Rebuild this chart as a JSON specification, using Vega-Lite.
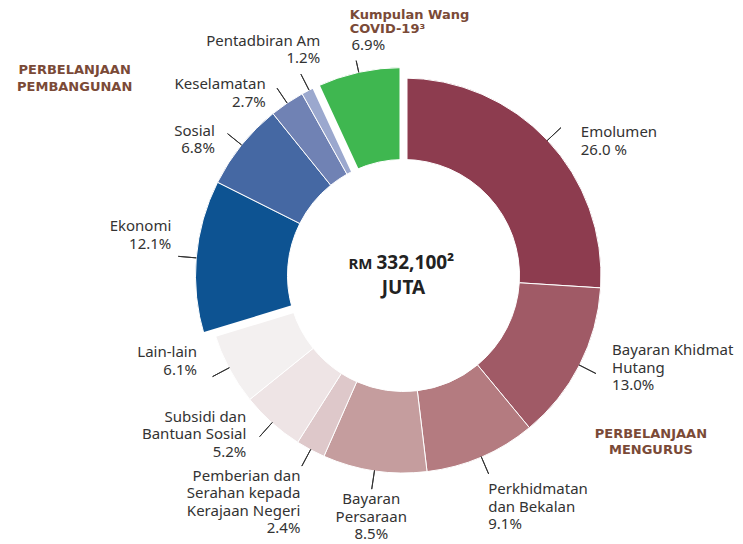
{
  "$schema": "https://vega.github.io/schema/vega-lite/v6.json",
  "width": 679,
  "height": 537,
  "autosize": {"type": "none"},
  "padding": {"left": 64, "top": 7, "right": 0, "bottom": 0},
  "background": "white",
  "config": {"view": {"stroke": null}, "text": {"font": "Noto Sans"}},
  "datasets": {
    "items": [
      {"cat": "Emolumen", "g": "M", "gt": "PERBELANJAAN\nMENGURUS", "pct": 26.0, "label": "Emolumen\n26.0 %"},
      {"cat": "Bayaran Khidmat Hutang", "g": "M", "gt": "PERBELANJAAN\nMENGURUS", "pct": 13.0, "label": "Bayaran Khidmat\nHutang\n13.0%"},
      {"cat": "Perkhidmatan dan Bekalan", "g": "M", "gt": "PERBELANJAAN\nMENGURUS", "pct": 9.1, "label": "Perkhidmatan\ndan Bekalan\n9.1%"},
      {"cat": "Bayaran Persaraan", "g": "M", "gt": "PERBELANJAAN\nMENGURUS", "pct": 8.5, "label": "Bayaran\nPersaraan\n8.5%"},
      {"cat": "Pemberian dan Serahan kepada Kerajaan Negeri", "g": "M", "gt": "PERBELANJAAN\nMENGURUS", "pct": 2.4, "label": "Pemberian dan\nSerahan kepada\nKerajaan Negeri\n2.4%"},
      {"cat": "Subsidi dan Bantuan Sosial", "g": "M", "gt": "PERBELANJAAN\nMENGURUS", "pct": 5.2, "label": "Subsidi dan\nBantuan Sosial\n5.2%"},
      {"cat": "Lain-lain", "g": "M", "gt": "PERBELANJAAN\nMENGURUS", "pct": 6.1, "label": "Lain-lain\n6.1%"},
      {"cat": "Ekonomi", "g": "P", "gt": "PERBELANJAAN\nPEMBANGUNAN", "pct": 12.1, "label": "Ekonomi\n12.1%"},
      {"cat": "Sosial", "g": "P", "gt": "PERBELANJAAN\nPEMBANGUNAN", "pct": 6.8, "label": "Sosial\n6.8%"},
      {"cat": "Keselamatan", "g": "P", "gt": "PERBELANJAAN\nPEMBANGUNAN", "pct": 2.7, "label": "Keselamatan\n2.7%"},
      {"cat": "Pentadbiran Am", "g": "P", "gt": "PERBELANJAAN\nPEMBANGUNAN", "pct": 1.2, "label": "Pentadbiran Am\n1.2%"},
      {"cat": "Kumpulan Wang COVID-19", "g": "C", "gt": "Kumpulan Wang\nCOVID-19³", "pct": 6.9, "label": "6.9%"}
    ]
  },
  "data": {"name": "items"},
  "transform": [{"stack": "pct", "groupby": [], "as": ["s0", "s1"]}],
  "layer": [
    {
      "transform": [{"filter": "datum.g === 'M'"}],
      "mark": {"type": "arc", "innerRadius": 116, "outerRadius": 197.5, "stroke": "white", "strokeWidth": 1},
      "encoding": {
        "theta": {"field": "s0", "type": "quantitative", "stack": null, "scale": {"domain": [0, 100]}},
        "theta2": {"field": "s1"},
        "color": {"field": "cat", "type": "nominal", "legend": null,
          "scale": {"domain": ["Emolumen", "Bayaran Khidmat Hutang", "Perkhidmatan dan Bekalan", "Bayaran Persaraan", "Pemberian dan Serahan kepada Kerajaan Negeri", "Subsidi dan Bantuan Sosial", "Lain-lain", "Ekonomi", "Sosial", "Keselamatan", "Pentadbiran Am", "Kumpulan Wang COVID-19"],
            "range": ["#8D3C4F", "#A05A66", "#B47B80", "#C59D9E", "#DEC8CA", "#EEE4E5", "#F3F0F0", "#0D5392", "#4568A3", "#7082B4", "#9BA8CE", "#3FB750"]}}
      }
    },
    {
      "transform": [{"filter": "datum.g !== 'M'"}],
      "mark": {"type": "arc", "innerRadius": 116, "outerRadius": 208, "stroke": "white", "strokeWidth": 1},
      "encoding": {
        "theta": {"field": "s0", "type": "quantitative", "stack": null, "scale": {"domain": [0, 100]}},
        "theta2": {"field": "s1"},
        "color": {"field": "cat", "type": "nominal", "legend": null}
      }
    },
    {
      "transform": [{"filter": {"field": "cat", "oneOf": ["Emolumen", "Ekonomi", "Kumpulan Wang COVID-19"]}}],
      "mark": {"type": "arc", "innerRadius": 108, "outerRadius": 216, "stroke": "white", "strokeWidth": 8, "fillOpacity": 0},
      "encoding": {
        "theta": {"field": "s0", "type": "quantitative", "stack": null, "scale": {"domain": [0, 100]}},
        "theta2": {"field": "s0"}
      }
    },
    {
      "transform": [
        {"filter": "datum.g === 'M'"},
        {"fold": ["s0", "s1"], "as": ["k", "v"]},
        {"aggregate": [{"op": "mean", "field": "v", "as": "mid"}], "groupby": ["cat"]}
      ],
      "mark": {"type": "arc", "innerRadius": 197, "outerRadius": 216, "stroke": "#333333", "strokeWidth": 1},
      "encoding": {
        "theta": {"field": "mid", "type": "quantitative", "stack": null, "scale": {"domain": [0, 100]}},
        "theta2": {"field": "mid"}
      }
    },
    {
      "transform": [
        {"filter": "datum.g === 'P'"},
        {"fold": ["s0", "s1"], "as": ["k", "v"]},
        {"aggregate": [{"op": "mean", "field": "v", "as": "mid"}], "groupby": ["cat"]}
      ],
      "mark": {"type": "arc", "innerRadius": 208, "outerRadius": 226, "stroke": "#333333", "strokeWidth": 1},
      "encoding": {
        "theta": {"field": "mid", "type": "quantitative", "stack": null, "scale": {"domain": [0, 100]}},
        "theta2": {"field": "mid"}
      }
    },
    {
      "transform": [
        {"filter": "datum.g === 'C'"},
        {"fold": ["s0", "s1"], "as": ["k", "v"]},
        {"aggregate": [{"op": "mean", "field": "v", "as": "mid"}], "groupby": ["cat"]}
      ],
      "mark": {"type": "arc", "innerRadius": 208, "outerRadius": 220, "stroke": "#333333", "strokeWidth": 1},
      "encoding": {
        "theta": {"field": "mid", "type": "quantitative", "stack": null, "scale": {"domain": [0, 100]}},
        "theta2": {"field": "mid"}
      }
    },
    {
      "transform": [
        {"filter": {"field": "cat", "oneOf": ["Emolumen"]}},
        {"fold": ["s0", "s1"], "as": ["k", "v"]},
        {"aggregate": [{"op": "mean", "field": "v", "as": "mid"}], "groupby": ["cat", "label"]}
      ],
      "mark": {"type": "text", "radius": 224, "align": "left", "baseline": "middle", "dx": 14, "dy": 10, "fontSize": 15, "lineHeight": 17.5, "lineBreak": "\n", "color": "#333333"},
      "encoding": {
        "theta": {"field": "mid", "type": "quantitative", "stack": null, "scale": {"domain": [0, 100]}},
        "text": {"field": "label"}
      }
    },
    {
      "transform": [
        {"filter": {"field": "cat", "oneOf": ["Bayaran Khidmat Hutang"]}},
        {"fold": ["s0", "s1"], "as": ["k", "v"]},
        {"aggregate": [{"op": "mean", "field": "v", "as": "mid"}], "groupby": ["cat", "label"]}
      ],
      "mark": {"type": "text", "radius": 224, "align": "left", "baseline": "middle", "dx": 9, "dy": -27, "fontSize": 15, "lineHeight": 17.5, "lineBreak": "\n", "color": "#333333"},
      "encoding": {
        "theta": {"field": "mid", "type": "quantitative", "stack": null, "scale": {"domain": [0, 100]}},
        "text": {"field": "label"}
      }
    },
    {
      "transform": [
        {"filter": {"field": "cat", "oneOf": ["Perkhidmatan dan Bekalan"]}},
        {"fold": ["s0", "s1"], "as": ["k", "v"]},
        {"aggregate": [{"op": "mean", "field": "v", "as": "mid"}], "groupby": ["cat", "label"]}
      ],
      "mark": {"type": "text", "radius": 225, "align": "left", "baseline": "top", "dx": -4, "fontSize": 15, "lineHeight": 17.5, "lineBreak": "\n", "color": "#333333"},
      "encoding": {
        "theta": {"field": "mid", "type": "quantitative", "stack": null, "scale": {"domain": [0, 100]}},
        "text": {"field": "label"}
      }
    },
    {
      "transform": [
        {"filter": {"field": "cat", "oneOf": ["Bayaran Persaraan"]}},
        {"fold": ["s0", "s1"], "as": ["k", "v"]},
        {"aggregate": [{"op": "mean", "field": "v", "as": "mid"}], "groupby": ["cat", "label"]}
      ],
      "mark": {"type": "text", "radius": 219, "align": "center", "baseline": "top", "fontSize": 15, "lineHeight": 17.5, "lineBreak": "\n", "color": "#333333"},
      "encoding": {
        "theta": {"field": "mid", "type": "quantitative", "stack": null, "scale": {"domain": [0, 100]}},
        "text": {"field": "label"}
      }
    },
    {
      "transform": [
        {"filter": {"field": "cat", "oneOf": ["Pemberian dan Serahan kepada Kerajaan Negeri"]}},
        {"fold": ["s0", "s1"], "as": ["k", "v"]},
        {"aggregate": [{"op": "mean", "field": "v", "as": "mid"}], "groupby": ["cat", "label"]}
      ],
      "mark": {"type": "text", "radius": 219, "align": "right", "baseline": "top", "fontSize": 15, "lineHeight": 17.5, "lineBreak": "\n", "color": "#333333"},
      "encoding": {
        "theta": {"field": "mid", "type": "quantitative", "stack": null, "scale": {"domain": [0, 100]}},
        "text": {"field": "label"}
      }
    },
    {
      "transform": [
        {"filter": {"field": "cat", "oneOf": ["Subsidi dan Bantuan Sosial"]}},
        {"fold": ["s0", "s1"], "as": ["k", "v"]},
        {"aggregate": [{"op": "mean", "field": "v", "as": "mid"}], "groupby": ["cat", "label"]}
      ],
      "mark": {"type": "text", "radius": 224, "align": "right", "baseline": "middle", "dx": -8, "dy": -26, "fontSize": 15, "lineHeight": 17.5, "lineBreak": "\n", "color": "#333333"},
      "encoding": {
        "theta": {"field": "mid", "type": "quantitative", "stack": null, "scale": {"domain": [0, 100]}},
        "text": {"field": "label"}
      }
    },
    {
      "transform": [
        {"filter": {"field": "cat", "oneOf": ["Lain-lain", "Ekonomi"]}},
        {"fold": ["s0", "s1"], "as": ["k", "v"]},
        {"aggregate": [{"op": "mean", "field": "v", "as": "mid"}], "groupby": ["cat", "label"]}
      ],
      "mark": {"type": "text", "radius": 228, "align": "right", "baseline": "bottom", "dx": -5, "dy": -22, "fontSize": 15, "lineHeight": 17.5, "lineBreak": "\n", "color": "#333333"},
      "encoding": {
        "theta": {"field": "mid", "type": "quantitative", "stack": null, "scale": {"domain": [0, 100]}},
        "text": {"field": "label"}
      }
    },
    {
      "transform": [
        {"filter": {"field": "cat", "oneOf": ["Sosial", "Keselamatan"]}},
        {"fold": ["s0", "s1"], "as": ["k", "v"]},
        {"aggregate": [{"op": "mean", "field": "v", "as": "mid"}], "groupby": ["cat", "label"]}
      ],
      "mark": {"type": "text", "radius": 232, "align": "right", "baseline": "middle", "dx": -8, "dy": 1, "fontSize": 15, "lineHeight": 17.5, "lineBreak": "\n", "color": "#333333"},
      "encoding": {
        "theta": {"field": "mid", "type": "quantitative", "stack": null, "scale": {"domain": [0, 100]}},
        "text": {"field": "label"}
      }
    },
    {
      "transform": [
        {"filter": {"field": "cat", "oneOf": ["Pentadbiran Am"]}},
        {"fold": ["s0", "s1"], "as": ["k", "v"]},
        {"aggregate": [{"op": "mean", "field": "v", "as": "mid"}], "groupby": ["cat", "label"]}
      ],
      "mark": {"type": "text", "radius": 232, "align": "right", "baseline": "bottom", "dx": 22, "dy": -20, "fontSize": 15, "lineHeight": 17.5, "lineBreak": "\n", "color": "#333333"},
      "encoding": {
        "theta": {"field": "mid", "type": "quantitative", "stack": null, "scale": {"domain": [0, 100]}},
        "text": {"field": "label"}
      }
    },
    {
      "transform": [
        {"filter": {"field": "cat", "oneOf": ["Kumpulan Wang COVID-19"]}},
        {"fold": ["s0", "s1"], "as": ["k", "v"]},
        {"aggregate": [{"op": "mean", "field": "v", "as": "mid"}], "groupby": ["cat", "label"]}
      ],
      "mark": {"type": "text", "radius": 228, "align": "left", "baseline": "bottom", "dx": -3, "fontSize": 15, "lineHeight": 17.5, "lineBreak": "\n", "color": "#333333"},
      "encoding": {
        "theta": {"field": "mid", "type": "quantitative", "stack": null, "scale": {"domain": [0, 100]}},
        "text": {"field": "label"}
      }
    },
    {
      "transform": [
        {"filter": "datum.g === 'M'"},
        {"aggregate": [{"op": "min", "field": "s0", "as": "g0"}, {"op": "max", "field": "s1", "as": "g1"}], "groupby": ["g", "gt"]},
        {"fold": ["g0", "g1"], "as": ["k", "v"]},
        {"aggregate": [{"op": "mean", "field": "v", "as": "gmid"}], "groupby": ["g", "gt"]}
      ],
      "mark": {"type": "text", "radius": 298, "align": "center", "baseline": "middle", "dx": 8, "dy": -19, "font": "DejaVu Sans", "fontWeight": "bold", "fontSize": 13, "lineHeight": 16.5, "lineBreak": "\n", "color": "#7A4A37"},
      "encoding": {
        "theta": {"field": "gmid", "type": "quantitative", "stack": null, "scale": {"domain": [0, 100]}},
        "text": {"field": "gt"}
      }
    },
    {
      "transform": [
        {"filter": "datum.g === 'P'"},
        {"aggregate": [{"op": "min", "field": "s0", "as": "g0"}, {"op": "max", "field": "s1", "as": "g1"}], "groupby": ["g", "gt"]},
        {"fold": ["g0", "g1"], "as": ["k", "v"]},
        {"aggregate": [{"op": "mean", "field": "v", "as": "gmid"}], "groupby": ["g", "gt"]}
      ],
      "mark": {"type": "text", "radius": 380, "align": "center", "baseline": "middle", "dx": 18, "dy": -50, "font": "DejaVu Sans", "fontWeight": "bold", "fontSize": 13, "lineHeight": 16.5, "lineBreak": "\n", "color": "#7A4A37"},
      "encoding": {
        "theta": {"field": "gmid", "type": "quantitative", "stack": null, "scale": {"domain": [0, 100]}},
        "text": {"field": "gt"}
      }
    },
    {
      "transform": [
        {"filter": "datum.g === 'C'"},
        {"aggregate": [{"op": "min", "field": "s0", "as": "g0"}, {"op": "max", "field": "s1", "as": "g1"}], "groupby": ["g", "gt"]},
        {"fold": ["g0", "g1"], "as": ["k", "v"]},
        {"aggregate": [{"op": "mean", "field": "v", "as": "gmid"}], "groupby": ["g", "gt"]}
      ],
      "mark": {"type": "text", "radius": 245, "align": "left", "baseline": "bottom", "dx": -1, "dy": -14.5, "font": "DejaVu Sans", "fontWeight": "bold", "fontSize": 13, "lineHeight": 14.5, "lineBreak": "\n", "color": "#7A4A37"},
      "encoding": {
        "theta": {"field": "gmid", "type": "quantitative", "stack": null, "scale": {"domain": [0, 100]}},
        "text": {"field": "gt"}
      }
    },
    {
      "data": {"values": [{"t": "RM"}]},
      "mark": {"type": "text", "align": "right", "baseline": "middle", "dx": -31, "dy": -12, "fontWeight": "bold", "fontSize": 15, "color": "#222222"},
      "encoding": {"text": {"field": "t"}}
    },
    {
      "data": {"values": [{"t": "332,100²"}]},
      "mark": {"type": "text", "align": "left", "baseline": "middle", "dx": -27, "dy": -13, "fontWeight": "bold", "fontSize": 19, "color": "#222222"},
      "encoding": {"text": {"field": "t"}}
    },
    {
      "data": {"values": [{"t": "JUTA"}]},
      "mark": {"type": "text", "align": "center", "baseline": "middle", "dy": 12, "fontWeight": "bold", "fontSize": 19, "color": "#222222"},
      "encoding": {"text": {"field": "t"}}
    }
  ]
}
